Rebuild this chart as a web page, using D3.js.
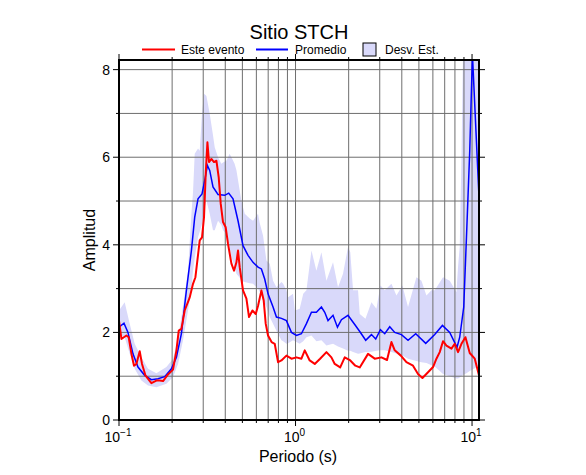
<!DOCTYPE html>
<html>
<head>
<meta charset="utf-8">
<script src="https://cdn.jsdelivr.net/npm/d3@7"></script>
<style>
  body { margin: 0; background: #fff; }
  text { font-family: "Liberation Sans", Arial, Helvetica, sans-serif; fill: #000; }
</style>
</head>
<body>
<div id="chart"></div>
<script>
// Sitio STCH - spectral ratio vs period

// Este evento (red)
var eventPeriod = [0.100, 0.1032, 0.1101, 0.1135, 0.1176, 0.1216, 0.1255, 0.1310, 0.1350, 0.1411,
  0.1526, 0.1628, 0.1701, 0.1776, 0.1895, 0.2023, 0.2115, 0.2180, 0.2257, 0.2356,
  0.2516, 0.2626, 0.2710, 0.2866, 0.2953, 0.3031, 0.3099, 0.3169, 0.3235, 0.3338,
  0.3453, 0.3563, 0.3672, 0.3769, 0.3884, 0.4022, 0.4146, 0.4334, 0.4483, 0.4626,
  0.4723, 0.4829, 0.5042, 0.5270, 0.5453, 0.5700, 0.5951, 0.6133, 0.6409, 0.6603,
  0.6778, 0.6986, 0.7317, 0.7625, 0.7961, 0.8322, 0.8880, 0.9480, 1.012, 1.080,
  1.128, 1.203, 1.285, 1.378, 1.497, 1.597, 1.668, 1.791, 1.900, 2.043,
  2.182, 2.311, 2.575, 2.810, 3.067, 3.299, 3.495, 3.648, 3.951, 4.249,
  4.630, 4.943, 5.236, 5.632, 6.012, 6.285, 6.561, 6.849, 7.161, 7.643,
  7.980, 8.331, 8.710, 9.176, 9.705, 10.36, 10.95];
var eventAmp = [2.27, 1.85, 1.93, 1.89, 1.51, 1.24, 1.28, 1.57, 1.28, 1.02,
  0.84, 0.90, 0.90, 0.89, 1.04, 1.15, 1.59, 2.04, 2.08, 2.50,
  2.80, 3.11, 3.26, 4.10, 4.17, 4.63, 5.62, 6.34, 5.89, 5.96,
  5.89, 5.92, 5.54, 4.94, 4.52, 4.40, 4.02, 3.57, 3.41, 3.60,
  3.87, 3.49, 2.96, 2.77, 2.35, 2.50, 2.42, 2.61, 2.96, 2.73,
  2.20, 1.93, 1.78, 1.74, 1.32, 1.36, 1.47, 1.40, 1.43, 1.40,
  1.59, 1.36, 1.28, 1.40, 1.55, 1.43, 1.28, 1.20, 1.43, 1.36,
  1.24, 1.20, 1.51, 1.40, 1.43, 1.37, 1.78, 1.59, 1.47, 1.32,
  1.24, 1.05, 0.96, 1.09, 1.21, 1.40, 1.55, 1.80, 1.70, 1.63,
  1.74, 1.55, 1.74, 1.89, 1.53, 1.40, 1.02];

// Promedio (blue)
var meanPeriod = [0.100, 0.1067, 0.1124, 0.1200, 0.1281, 0.1398, 0.1526, 0.1663, 0.1815, 0.1981,
  0.2115, 0.2257, 0.2409, 0.2572, 0.2685, 0.2803, 0.2953, 0.3059, 0.3169, 0.3265,
  0.3408, 0.3639, 0.3970, 0.4183, 0.4425, 0.4723, 0.5042, 0.5382, 0.5744, 0.6133,
  0.6409, 0.6690, 0.6986, 0.7458, 0.7797, 0.8322, 0.8880, 0.9480, 1.012, 1.080,
  1.153, 1.231, 1.313, 1.402, 1.464, 1.528, 1.631, 1.728, 1.820, 1.983,
  2.165, 2.311, 2.498, 2.692, 2.847, 3.027, 3.202, 3.418, 3.648, 3.981,
  4.339, 4.797, 5.467, 6.146, 6.796, 7.475, 8.222, 8.515, 8.974, 9.297,
  9.705, 10.05, 10.95];
var meanAmp = [2.12, 2.21, 2.00, 1.51, 1.21, 1.02, 0.92, 0.94, 0.99, 1.17,
  1.43, 1.97, 2.96, 3.87, 4.63, 5.05, 5.16, 5.47, 5.81, 5.70,
  5.32, 5.15, 5.13, 5.18, 5.05, 4.55, 3.98, 3.76, 3.60, 3.49,
  3.45, 3.22, 2.88, 2.58, 2.35, 2.32, 2.27, 2.00, 1.93, 1.97,
  2.20, 2.46, 2.46, 2.58, 2.46, 2.27, 2.39, 2.12, 2.29, 2.39,
  2.18, 2.02, 1.82, 1.95, 1.85, 2.06, 1.97, 2.13, 2.00, 1.95,
  1.82, 1.97, 1.75, 1.95, 2.16, 2.00, 1.66, 1.89, 2.58, 4.17,
  6.15, 8.35, 5.09];

// Desv. Est. band
var bandPeriod = [0.100, 0.1077, 0.115, 0.1227, 0.1339, 0.146, 0.1628, 0.1856, 0.2023, 0.216,
  0.2305, 0.246, 0.2572, 0.2626, 0.2685, 0.2803, 0.2866, 0.2953, 0.3031, 0.3128,
  0.3265, 0.3408, 0.3485, 0.3639, 0.380, 0.3884, 0.4054, 0.4146, 0.4232, 0.4334,
  0.4517, 0.4626, 0.4829, 0.4938, 0.5155, 0.5502, 0.5744, 0.6133, 0.6267, 0.6546,
  0.6842, 0.7144, 0.7458, 0.7797, 0.8322, 0.851, 0.888, 0.9085, 0.968, 0.992,
  1.056, 1.106, 1.153, 1.231, 1.313, 1.402, 1.497, 1.631, 1.741, 1.858,
  1.983, 2.043, 2.118, 2.26, 2.311, 2.49, 2.692, 2.873, 3.027, 3.202,
  3.495, 3.73, 4.03, 4.339, 4.842, 5.168, 5.516, 5.888, 6.146, 6.85,
  7.475, 8.157, 8.33, 8.515, 8.71, 8.892, 9.297, 9.705, 10.36, 10.95];
var bandUpper = [2.50, 2.69, 2.20, 1.74, 1.43, 1.17, 1.07, 1.21, 1.40, 1.85,
  2.60, 3.40, 4.71, 5.20, 6.08, 6.20, 6.15, 7.00, 7.45, 7.40,
  6.99, 6.50, 6.23, 6.00, 5.85, 5.88, 5.92, 6.00, 6.08, 6.00,
  5.85, 5.70, 5.24, 5.00, 4.71, 4.60, 4.55, 4.71, 4.50, 4.21,
  3.64, 3.57, 3.18, 3.03, 3.15, 3.11, 2.96, 2.80, 2.88, 2.50,
  2.54, 2.88, 2.96, 3.87, 3.41, 3.83, 3.18, 3.60, 3.03, 3.34,
  3.95, 3.83, 2.96, 2.96, 2.42, 2.31, 2.69, 2.54, 3.07, 2.96,
  3.11, 2.84, 3.07, 2.58, 3.26, 3.18, 2.84, 2.96, 2.96, 3.26,
  3.18, 2.92, 3.50, 3.95, 6.00, 8.40, 9.00, 9.00, 9.00, 9.00];
var bandLower = [1.93, 1.89, 1.51, 1.17, 0.90, 0.79, 0.75, 0.83, 0.98, 1.28,
  1.82, 2.50, 3.00, 3.41, 3.70, 4.17, 4.30, 4.48, 4.80, 5.01,
  4.71, 4.33, 4.33, 4.55, 4.45, 4.33, 4.25, 4.10, 3.95, 3.72,
  3.50, 3.34, 3.25, 3.18, 3.15, 3.12, 3.11, 3.00, 2.92, 2.75,
  2.58, 2.35, 2.20, 2.04, 1.82, 1.80, 1.74, 1.75, 1.82, 1.80,
  1.74, 1.80, 1.89, 1.93, 1.80, 1.82, 1.70, 1.74, 1.68, 1.63,
  1.58, 1.58, 1.55, 1.51, 1.52, 1.55, 1.56, 1.58, 1.59, 1.59,
  1.55, 1.52, 1.47, 1.40, 1.35, 1.32, 1.30, 1.25, 1.22, 1.05,
  1.00, 0.95, 0.95, 0.97, 1.00, 1.03, 1.07, 1.12, 1.18, 1.25];

var yTicks = [0, 1, 2, 3, 4, 5, 6, 7, 8],
  yLabels = [0, 2, 4, 6, 8],
  xMajor = [0.1, 1, 10],
  xExp = ["\u22121", "0", "1"];

var width = 586, height = 475,
  margin = {top: 60, right: 107, bottom: 55, left: 119};

var x = d3.scaleLog()
  .domain([0.1, 10.95])
  .range([margin.left, width - margin.right]);

var y = d3.scaleLinear()
  .domain([0, 8.22])
  .range([height - margin.bottom, margin.top]);

var xMinor = [];
[0.1, 1, 10].forEach(function(d){
  for (var k = 2; k <= 9; k++){
    if (d * k < 10.95) xMinor.push(+(d * k).toFixed(2));
  }
});

var svg = d3.select("#chart").append("svg")
    .attr("width", width)
    .attr("height", height);

svg.append("clipPath")
    .attr("id", "plot-clip")
  .append("rect")
    .attr("x", x.range()[0])
    .attr("y", y.range()[1])
    .attr("width", x.range()[1] - x.range()[0])
    .attr("height", y.range()[0] - y.range()[1]);

var plot = svg.append("g").attr("clip-path", "url(#plot-clip)");

// band
var bandData = bandPeriod.map(function(p, i){ return {p: p, hi: bandUpper[i], lo: bandLower[i]}; });
plot.append("path")
    .datum(bandData)
    .attr("fill", "#d9d9fa")
    .attr("d", d3.area()
      .x(function(d){ return x(d.p); })
      .y0(function(d){ return y(d.lo); })
      .y1(function(d){ return y(d.hi); }));

// grid
plot.selectAll(".gx")
    .data(xMinor.concat([1, 10]))
  .enter().append("line")
    .attr("x1", function(d){ return x(d); })
    .attr("x2", function(d){ return x(d); })
    .attr("y1", y.range()[0])
    .attr("y2", y.range()[1])
    .attr("stroke", "#6e6e6e")
    .attr("stroke-width", 1);

plot.selectAll(".gy")
    .data(yTicks.slice(1))
  .enter().append("line")
    .attr("x1", x.range()[0])
    .attr("x2", x.range()[1])
    .attr("y1", function(d){ return y(d); })
    .attr("y2", function(d){ return y(d); })
    .attr("stroke", "#6e6e6e")
    .attr("stroke-width", 1);

var line = d3.line()
  .x(function(d){ return x(d[0]); })
  .y(function(d){ return y(d[1]); });

plot.append("path")
    .datum(meanPeriod.map(function(p, i){ return [p, meanAmp[i]]; }))
    .attr("fill", "none")
    .attr("stroke", "#0000ff")
    .attr("stroke-width", 1.5)
    .attr("d", line);

plot.append("path")
    .datum(eventPeriod.map(function(p, i){ return [p, eventAmp[i]]; }))
    .attr("fill", "none")
    .attr("stroke", "#ff0000")
    .attr("stroke-width", 2)
    .attr("stroke-linejoin", "round")
    .attr("d", line);

// frame
svg.append("rect")
    .attr("x", x.range()[0])
    .attr("y", y.range()[1])
    .attr("width", x.range()[1] - x.range()[0])
    .attr("height", y.range()[0] - y.range()[1])
    .attr("fill", "none")
    .attr("stroke", "#000")
    .attr("stroke-width", 2);

// ticks
var ticks = svg.append("g").attr("stroke", "#000").attr("stroke-width", 1);
[y.range()[0], y.range()[1]].forEach(function(yy, side){
  var dir = side == 0 ? 1 : -1;
  ticks.selectAll(".tx" + side)
      .data(xMinor.concat(xMajor))
    .enter().append("line")
      .attr("x1", function(d){ return x(d); })
      .attr("x2", function(d){ return x(d); })
      .attr("y1", yy)
      .attr("y2", function(d){ return yy + dir * (xMajor.indexOf(d) >= 0 ? 6 : 3); });
});
[x.range()[0], x.range()[1]].forEach(function(xx, side){
  var dir = side == 0 ? -1 : 1;
  ticks.selectAll(".ty" + side)
      .data(yTicks)
    .enter().append("line")
      .attr("y1", function(d){ return y(d); })
      .attr("y2", function(d){ return y(d); })
      .attr("x1", xx)
      .attr("x2", function(d){ return xx + dir * (d % 2 == 0 ? 6 : 3); });
});

// tick labels
svg.selectAll(".ylab")
    .data(yLabels)
  .enter().append("text")
    .attr("x", x.range()[0] - 9)
    .attr("y", function(d){ return y(d) + 5; })
    .attr("text-anchor", "end")
    .style("font-size", "14px")
    .text(function(d){ return d; });

var xl = svg.selectAll(".xlab")
    .data(xMajor)
  .enter().append("text")
    .attr("x", function(d){ return x(d) - 1; })
    .attr("y", 442)
    .attr("text-anchor", "middle")
    .style("font-size", "14px");
xl.append("tspan").text("10");
xl.append("tspan")
    .attr("dy", -6)
    .style("font-size", "10px")
    .text(function(d, i){ return xExp[i]; });

// axis titles
svg.append("text")
    .attr("x", 298)
    .attr("y", 462)
    .attr("text-anchor", "middle")
    .style("font-size", "16px")
    .text("Periodo (s)");

svg.append("text")
    .attr("transform", "translate(95,240) rotate(-90)")
    .attr("text-anchor", "middle")
    .style("font-size", "16px")
    .text("Amplitud");

svg.append("text")
    .attr("x", 299)
    .attr("y", 39)
    .attr("text-anchor", "middle")
    .style("font-size", "20px")
    .text("Sitio STCH");

// legend
var legend = svg.append("g");
legend.append("line")
    .attr("x1", 142).attr("x2", 175).attr("y1", 49.5).attr("y2", 49.5)
    .attr("stroke", "#ff0000").attr("stroke-width", 2);
legend.append("text")
    .attr("x", 181).attr("y", 54)
    .style("font-size", "12px")
    .text("Este evento");
legend.append("line")
    .attr("x1", 256).attr("x2", 288).attr("y1", 49.5).attr("y2", 49.5)
    .attr("stroke", "#0000ff").attr("stroke-width", 2);
legend.append("text")
    .attr("x", 295).attr("y", 54)
    .style("font-size", "12px")
    .text("Promedio");
legend.append("rect")
    .attr("x", 363).attr("y", 43).attr("width", 13).attr("height", 13)
    .attr("fill", "#d9d9fa").attr("stroke", "#000").attr("stroke-width", 1);
legend.append("text")
    .attr("x", 385).attr("y", 54)
    .style("font-size", "12px")
    .text("Desv. Est.");
</script>
</body>
</html>
